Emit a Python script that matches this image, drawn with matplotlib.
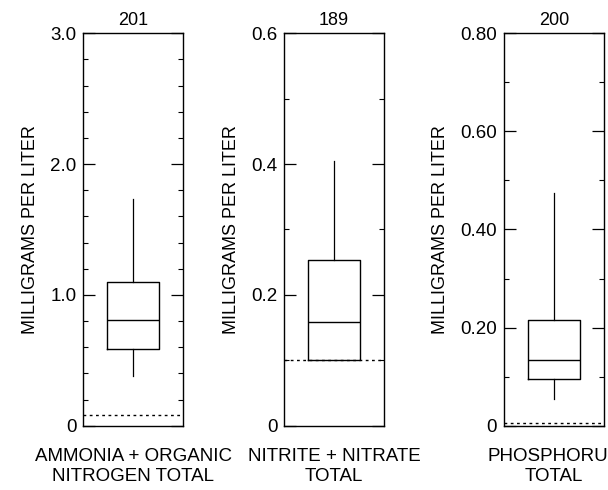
import matplotlib
matplotlib.use("Agg")
import matplotlib.pyplot as plt
from matplotlib.ticker import FixedLocator, MultipleLocator

plt.rcParams['font.family'] = ['Liberation Sans', 'DejaVu Sans']

# constituent summaries (milligrams per liter)
names = ['AMMONIA + ORGANIC\nNITROGEN TOTAL', 'NITRITE + NITRATE\nTOTAL', 'PHOSPHORUS\nTOTAL']
counts = [201, 189, 200]
whisker_low = [0.38, 0.10, 0.054]
quart_low = [0.59, 0.10, 0.095]
medians = [0.81, 0.158, 0.134]
quart_high = [1.10, 0.253, 0.215]
whisker_high = [1.73, 0.405, 0.474]
report_limit = [0.08, 0.10, 0.006]

y_max = [3.0, 0.6, 0.8]
major_ticks = [[0, 1.0, 2.0, 3.0], [0, 0.2, 0.4, 0.6], [0, 0.2, 0.4, 0.6, 0.8]]
major_labels = [['0', '1.0', '2.0', '3.0'], ['0', '0.2', '0.4', '0.6'],
                ['0', '0.20', '0.40', '0.60', '0.80']]
minor_step = [0.2, 0.1, 0.1]

fig = plt.figure(figsize=(6.08, 4.90), dpi=100)
lefts = [0.137, 0.4676, 0.829]

for i in range(3):
    ax = fig.add_axes([lefts[i], 0.1312, 0.164, 0.801])
    stats = [{'whislo': whisker_low[i], 'q1': quart_low[i], 'med': medians[i],
              'q3': quart_high[i], 'whishi': whisker_high[i], 'fliers': []}]
    ax.bxp(stats, positions=[0], widths=0.52, showcaps=False,
           boxprops=dict(color='black', linewidth=1.0),
           medianprops=dict(color='black', linewidth=1.0),
           whiskerprops=dict(color='black', linewidth=0.9))
    ax.axhline(report_limit[i], color='black', linewidth=1.0,
               linestyle=(0, (2, 2.5)))
    ax.set_xlim(-0.5, 0.5)
    ax.set_ylim(0, y_max[i])
    ax.set_xticks([])
    ax.yaxis.set_major_locator(FixedLocator(major_ticks[i]))
    ax.set_yticklabels(major_labels[i])
    ax.yaxis.set_minor_locator(MultipleLocator(minor_step[i]))
    ax.tick_params(axis='y', which='both', direction='in', left=True, right=True,
                   labelsize=13.5, pad=5)
    ax.tick_params(axis='y', which='major', length=8.5, width=0.9)
    ax.tick_params(axis='y', which='minor', length=3.5, width=0.8)
    for sp in ax.spines.values():
        sp.set_linewidth(1.0)
    ax.set_ylabel('MILLIGRAMS PER LITER', fontsize=13, labelpad=8)
    ax.set_title(str(counts[i]), fontsize=13, pad=6)
    ax.text(0.5, -0.056, names[i], transform=ax.transAxes, ha='center', va='top',
            fontsize=13.5, linespacing=1.22, clip_on=False)

fig.savefig('out.png', dpi=100)
